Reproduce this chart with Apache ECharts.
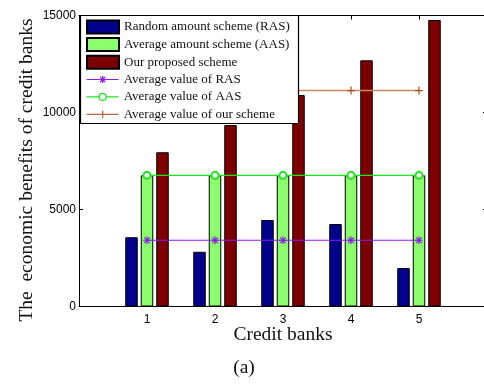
<!DOCTYPE html>
<html>
<head>
<meta charset="utf-8">
<script src="https://cdn.jsdelivr.net/npm/echarts@6/dist/echarts.min.js"></script>
<style>
  html, body { margin: 0; padding: 0; background: #ffffff; }
  #chart { width: 484px; height: 384px; }
</style>
</head>
<body>
<div id="chart"></div>
<script>
// Credit bank indices
const banks = [1, 2, 3, 4, 5];

// Economic benefits per bank for each scheme
const rasValues = [3570, 2820, 4460, 4250, 1980];
const aasValues = [6760, 6760, 6760, 6760, 6760];
const ourValues = [7950, 9350, 10900, 12690, 14770];

// Axis ticks
const yTicks = [0, 5000, 10000, 15000];
const xTicks = [1, 2, 3, 4, 5];

const barNames = [
  'Random amount scheme (RAS)',
  'Average amount scheme (AAS)',
  'Our proposed scheme'
];
const lineNames = [
  'Average value of RAS',
  'Average value of AAS',
  'Average value of our scheme'
];

const mean = arr => arr.reduce((s, v) => s + v, 0) / arr.length;
const pairs = vals => banks.map((b, i) => [b, vals[i]]);
const flat = v => banks.map(b => [b, v]);

const serif = 'Liberation Serif, Times New Roman, serif';
const sans = 'Liberation Sans, Arial, sans-serif';

// marker shapes on the average lines
const asterisk = 'path://M0,-5L0,5M-5,0L5,0M-3.6,-3.6L3.6,3.6M-3.6,3.6L3.6,-3.6';
const plus = 'path://M-5,0L5,0M0,-5L0,5';

// legend keys: a 32x7 line with the marker in its middle
const keyAsterisk = 'path://M0,3.5L32,3.5M16,0L16,7M12.5,3.5L19.5,3.5M13.5,1L18.5,6M13.5,6L18.5,1';
const keyCircle = 'path://M0,3.5L12.5,3.5M19.5,3.5L32,3.5M12.5,3.5A3.5,3.5 0 1 1 19.5,3.5A3.5,3.5 0 1 1 12.5,3.5';
const keyPlus = 'path://M0,3.5L32,3.5M16,0L16,7';

const rasLine = '#8a1fe6';
const aasLine = '#1ee61e';
const ourLine = '#cd8760';
const ourMark = '#a8501e';

const chart = echarts.init(document.getElementById('chart'), null, { renderer: 'canvas' });

const barBase = { type: 'bar', barWidth: 12.5, barGap: '24%', z: 2 };

const boxAxisX = {
  type: 'value', min: 0, max: 6, interval: 1,
  axisLine: { show: true, onZero: false, lineStyle: { color: '#000', width: 1 } },
  axisTick: { show: true, inside: true, length: 4, lineStyle: { color: '#000' } },
  splitLine: { show: false }
};
const boxAxisY = {
  type: 'value', min: yTicks[0], max: yTicks[yTicks.length - 1], interval: 5000,
  axisLine: { show: true, onZero: false, lineStyle: { color: '#000', width: 1 } },
  axisTick: { show: true, inside: true, length: 4, lineStyle: { color: '#000' } },
  splitLine: { show: false }
};

const legendCommon = {
  orient: 'vertical',
  left: 80,
  itemWidth: 32,
  textStyle: { fontFamily: serif, fontSize: 13, color: '#111' },
  backgroundColor: 'transparent',
  borderWidth: 0,
  z: 12
};

chart.setOption({
  animation: false,
  backgroundColor: '#ffffff',
  grid: { left: 79, top: 15.5, width: 408, height: 291, outerBoundsMode: 'none', containLabel: false },
  xAxis: [
    Object.assign({}, boxAxisX, {
      axisLabel: {
        margin: 7, color: '#000', fontFamily: sans, fontSize: 12,
        formatter: v => (xTicks.indexOf(v) >= 0 ? String(v) : '')
      }
    }),
    Object.assign({}, boxAxisX, { position: 'top', axisLabel: { show: false } })
  ],
  yAxis: [
    Object.assign({}, boxAxisY, {
      axisLabel: {
        margin: 3, color: '#000', fontFamily: sans, fontSize: 12,
        formatter: v => (yTicks.indexOf(v) >= 0 ? String(v) : '')
      }
    }),
    Object.assign({}, boxAxisY, { position: 'right', axisLabel: { show: false } })
  ],
  legend: [
    Object.assign({}, legendCommon, {
      top: 19.5,
      padding: [0, 0, 0, 6],
      itemHeight: 13,
      itemGap: 2.6,
      data: barNames.map(n => ({ name: n, icon: 'rect' }))
    }),
    Object.assign({}, legendCommon, {
      top: 73,
      padding: [0, 0, 0, 6],
      itemHeight: 7,
      itemGap: 4.4,
      data: [
        { name: lineNames[0], icon: keyAsterisk,
          itemStyle: { color: 'rgba(0,0,0,0)', borderColor: rasLine, borderWidth: 1.2 } },
        { name: lineNames[1], icon: keyCircle,
          itemStyle: { color: '#ffffff', borderColor: aasLine, borderWidth: 1.2 } },
        { name: lineNames[2], icon: keyPlus,
          itemStyle: { color: 'rgba(0,0,0,0)', borderColor: '#b8683c', borderWidth: 1.3 } }
      ]
    })
  ],
  series: [
    Object.assign({}, barBase, {
      name: barNames[0],
      data: pairs(rasValues),
      itemStyle: { color: '#00008c', borderColor: '#000', borderWidth: 1 }
    }),
    Object.assign({}, barBase, {
      name: barNames[1],
      data: pairs(aasValues),
      itemStyle: { color: '#8cff6c', borderColor: '#000', borderWidth: 1 }
    }),
    Object.assign({}, barBase, {
      name: barNames[2],
      data: pairs(ourValues),
      itemStyle: { color: '#7d0000', borderColor: '#000', borderWidth: 1 }
    }),
    {
      name: lineNames[0], type: 'line', z: 4,
      data: flat(mean(rasValues)),
      symbol: asterisk, symbolSize: 8,
      lineStyle: { color: rasLine, width: 1.2 },
      itemStyle: { color: 'rgba(0,0,0,0)', borderColor: rasLine, borderWidth: 1.2 }
    },
    {
      name: lineNames[1], type: 'line', z: 4,
      data: flat(mean(aasValues)),
      symbol: 'emptyCircle', symbolSize: 7,
      lineStyle: { color: aasLine, width: 1.2 },
      itemStyle: { color: aasLine, borderColor: aasLine, borderWidth: 1.2 }
    },
    {
      name: lineNames[2], type: 'line', z: 4,
      data: flat(mean(ourValues)),
      symbol: plus, symbolSize: 8,
      lineStyle: { color: ourLine, width: 1.5 },
      itemStyle: { color: 'rgba(0,0,0,0)', borderColor: ourMark, borderWidth: 1.2 }
    }
  ],
  graphic: [
    {
      // legend frame
      type: 'rect', z: 10,
      shape: { x: 80.5, y: 15.5, width: 218, height: 108 },
      style: { fill: '#ffffff', stroke: '#000000', lineWidth: 1.2 }
    },
    {
      type: 'text', x: 27, y: 170, rotation: Math.PI / 2,
      style: {
        text: 'The  economic benefits of credit banks',
        font: '19.5px ' + serif, fill: '#111',
        textAlign: 'center', textVerticalAlign: 'middle'
      }
    },
    {
      type: 'text', x: 283, y: 335,
      style: {
        text: 'Credit banks', font: '19.5px ' + serif, fill: '#111',
        textAlign: 'center', textVerticalAlign: 'middle'
      }
    },
    {
      type: 'text', x: 244, y: 368,
      style: {
        text: '(a)', font: '19.5px ' + serif, fill: '#111',
        textAlign: 'center', textVerticalAlign: 'middle'
      }
    }
  ]
});
</script>
</body>
</html>
